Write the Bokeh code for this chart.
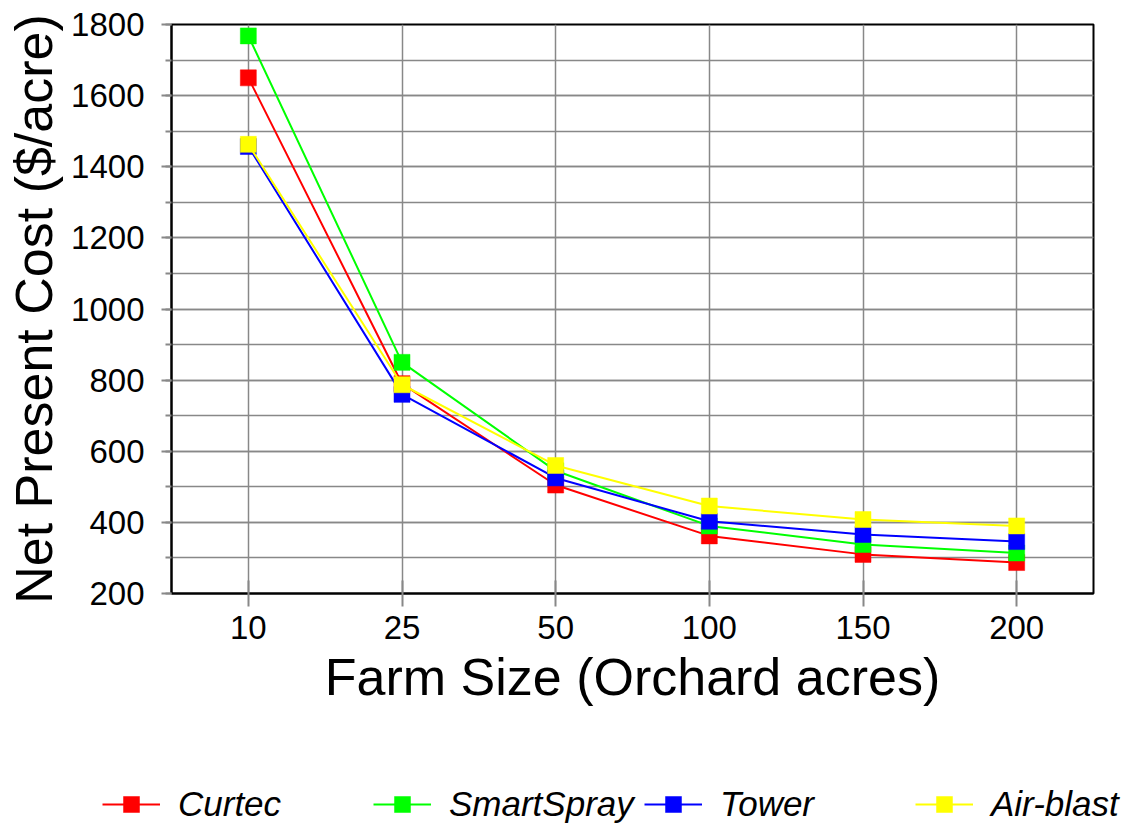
from bokeh.plotting import figure
from bokeh.layouts import column
from bokeh.models import (Range1d, FactorRange, SingleIntervalTicker, Legend, LegendItem)
from bokeh.embed import file_html
from bokeh.resources import INLINE

# ---- data ----
farm_sizes = ["10", "25", "50", "100", "150", "200"]
curtec = [1650, 790, 505, 362, 310, 287]
smartspray = [1768, 850, 545, 390, 338, 314]
tower = [1457, 760, 525, 403, 366, 346]
airblast = [1463, 787, 560, 446, 408, 390]

series_names = ["Curtec", "SmartSpray", "Tower", "Air-blast"]
series_values = [curtec, smartspray, tower, airblast]
series_colors = ["#FF0000", "#00FF00", "#0000FF", "#FFFF00"]

FONT = "Liberation Sans"

p = figure(
    x_range=FactorRange(*farm_sizes, range_padding=0),
    y_range=Range1d(200, 1800),
    frame_width=922, frame_height=569,
    min_border_left=171, min_border_right=32, min_border_top=24, min_border_bottom=160,
    output_backend="svg", toolbar_location=None,
)
p.background_fill_color = "white"
p.border_fill_color = "white"
p.outline_line_color = "black"
p.outline_line_width = 2

# y axis
p.yaxis.ticker = SingleIntervalTicker(interval=200, num_minor_ticks=2)
p.yaxis.axis_label = "Net Present Cost ($/acre)"
p.yaxis.axis_label_text_font = FONT
p.yaxis.axis_label_text_font_size = "52px"
p.yaxis.axis_label_text_font_style = "normal"
p.yaxis.axis_label_text_color = "black"
p.yaxis.axis_label_standoff = 5
p.yaxis.major_label_text_font = FONT
p.yaxis.major_label_text_font_size = "33px"
p.yaxis.major_label_text_color = "black"
p.yaxis.major_label_standoff = 17
p.yaxis.major_tick_out = 10
p.yaxis.major_tick_in = 0
p.yaxis.minor_tick_out = 6
p.yaxis.minor_tick_in = 0
p.yaxis.major_tick_line_color = "#888888"
p.yaxis.minor_tick_line_color = "#888888"
p.yaxis.major_tick_line_width = 2
p.yaxis.minor_tick_line_width = 2
p.yaxis.axis_line_color = "black"
p.yaxis.axis_line_width = 2

# x axis
p.xaxis.axis_label = "Farm Size (Orchard acres)"
p.xaxis.axis_label_text_font = FONT
p.xaxis.axis_label_text_font_size = "52px"
p.xaxis.axis_label_text_font_style = "normal"
p.xaxis.axis_label_text_color = "black"
p.xaxis.axis_label_standoff = 6
p.xaxis.major_label_text_font = FONT
p.xaxis.major_label_text_font_size = "33px"
p.xaxis.major_label_text_color = "black"
p.xaxis.major_label_standoff = 9
p.xaxis.major_tick_out = 13
p.xaxis.major_tick_in = 13
p.xaxis.major_tick_line_color = "#888888"
p.xaxis.major_tick_line_width = 2
p.xaxis.axis_line_color = "black"
p.xaxis.axis_line_width = 2

# grids
p.xgrid.grid_line_color = "#888888"
p.xgrid.grid_line_width = 1.5
p.ygrid.grid_line_color = "#888888"
p.ygrid.grid_line_width = 1.5
p.ygrid.minor_grid_line_color = "#888888"
p.ygrid.minor_grid_line_width = 1.5

for name, vals, col in zip(series_names, series_values, series_colors):
    p.line(farm_sizes, vals, line_color=col, line_width=2)
    p.scatter(farm_sizes, vals, marker="square", size=16,
              fill_color=col, line_color=col, line_width=0.5)

# ---- legend strip below the chart (hosts the legend inside its own frame) ----
p2 = figure(
    x_range=FactorRange(*farm_sizes, range_padding=0),
    y_range=Range1d(0, 1),   # series lie above this strip's view, only the legend shows
    frame_width=1125, frame_height=72,
    min_border=0, x_axis_location=None, y_axis_location=None,
    output_backend="svg", toolbar_location=None,
)
p2.grid.visible = False
p2.outline_line_color = None
p2.background_fill_color = "white"
p2.border_fill_color = "white"

items = []
for name, vals, col in zip(series_names, series_values, series_colors):
    ln = p2.line(farm_sizes, vals, line_color=col, line_width=2)
    sc = p2.scatter(farm_sizes, vals, marker="square", size=16,
                    fill_color=col, line_color=col, line_width=0.5)
    items.append(LegendItem(label=name, renderers=[ln, sc]))

legend = Legend(
    items=items, orientation="horizontal", location=(102, 1),
    glyph_width=58, glyph_height=40, label_standoff=18, label_width=195,
    spacing=0, padding=0, margin=0,
    border_line_color=None, background_fill_alpha=0,
    label_text_font=FONT, label_text_font_size="35px",
    label_text_font_style="italic", label_text_color="black",
)
p2.add_layout(legend, "center")

layout = column(p, p2, spacing=0)
open("out.html", "w").write(file_html(layout, INLINE))
